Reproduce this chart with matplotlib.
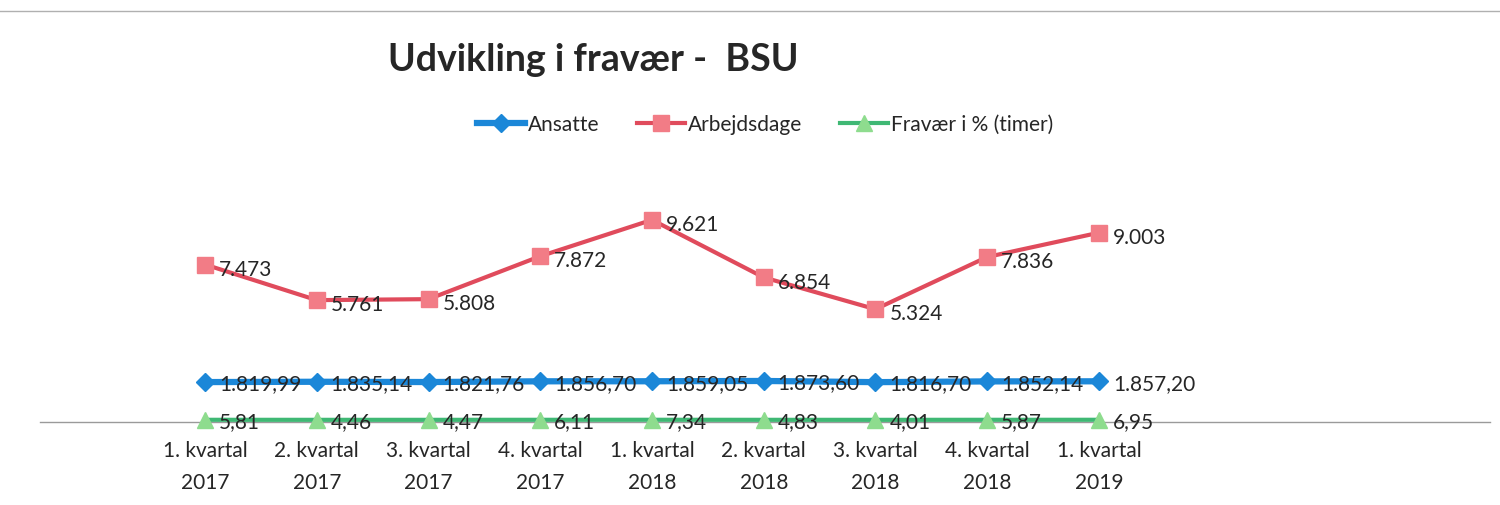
import numpy as np
import matplotlib
matplotlib.use("Agg")
import matplotlib.pyplot as plt
from matplotlib.lines import Line2D

plt.rcParams['font.family'] = ['Lato', 'DejaVu Sans']

quarters = ["1. kvartal\n2017", "2. kvartal\n2017", "3. kvartal\n2017", "4. kvartal\n2017",
            "1. kvartal\n2018", "2. kvartal\n2018", "3. kvartal\n2018", "4. kvartal\n2018",
            "1. kvartal\n2019"]
ansatte = [1819.99, 1835.14, 1821.76, 1856.70, 1859.05, 1873.60, 1816.70, 1852.14, 1857.20]
arbejdsdage = [7473, 5761, 5808, 7872, 9621, 6854, 5324, 7836, 9003]
fravaer = [5.81, 4.46, 4.47, 6.11, 7.34, 4.83, 4.01, 5.87, 6.95]


def dk_int(v):
    return f"{v:,.0f}".replace(",", ".")


def dk_dec(v):
    s = f"{v:,.2f}"
    return s.replace(",", "X").replace(".", ",").replace("X", ".")


fig = plt.figure(figsize=(15, 5.06), dpi=100)
ax = fig.add_axes([40 / 1500, 1 - 423 / 506, 1450 / 1500, 262 / 506])

x = np.arange(len(quarters))
blue = "#1b87d8"
red_line = "#e04b5c"
red_mark = "#f27c86"
green_line = "#3fb874"
green_mark = "#8edc8e"

ax.plot(x, ansatte, color=blue, lw=4.5, marker="D", ms=9, mfc=blue, mec=blue,
        label="Ansatte", zorder=3, clip_on=False)
ax.plot(x, arbejdsdage, color=red_line, lw=3, marker="s", ms=11, mfc=red_mark, mec=red_mark,
        label="Arbejdsdage", zorder=3, clip_on=False)
ax.plot(x, fravaer, color=green_line, lw=3, marker="^", ms=12, mfc=green_mark, mec=green_mark,
        label="Fravær i % (timer)", zorder=3, clip_on=False)

lab_kw = dict(fontsize=15, color="#262626", va="center", ha="left", zorder=4)
for i in x:
    ax.annotate(dk_dec(ansatte[i]), (i, ansatte[i]), xytext=(10, -1), textcoords="offset points", **lab_kw)
    ax.annotate(dk_int(arbejdsdage[i]), (i, arbejdsdage[i]), xytext=(10, -3), textcoords="offset points", **lab_kw)
    ax.annotate(dk_dec(fravaer[i]), (i, fravaer[i]), xytext=(10, -1), textcoords="offset points", **lab_kw)

ax.set_xlim(-1.477, 11.5)
ax.set_ylim(-100, 12500)
ax.set_xticks(x)
ax.set_xticklabels(quarters, fontsize=15, color="#262626", linespacing=1.75)
ax.tick_params(axis="x", length=0, pad=13)
ax.set_yticks([])
for s in ["top", "left", "right"]:
    ax.spines[s].set_visible(False)
ax.spines["bottom"].set_color("#9a9a9a")
ax.spines["bottom"].set_linewidth(1)
ax.spines["bottom"].set_zorder(1)
ax.set_facecolor("none")

fig.text(388 / 1500, 1 - 60 / 506, "Udvikling i fravær -  BSU", fontsize=27, fontweight="bold",
         color="#262626", ha="left", va="center")

fig.legend(loc="center", bbox_to_anchor=(765 / 1500, 1 - 125 / 506), ncol=3, frameon=False,
           fontsize=15, handlelength=2.3, columnspacing=1.8, handletextpad=0.15, labelcolor="#262626")

fig.add_artist(Line2D([0, 1], [1 - 12 / 506, 1 - 12 / 506], color="#b0b0b0", lw=1))

fig.savefig("out.png", dpi=100)
